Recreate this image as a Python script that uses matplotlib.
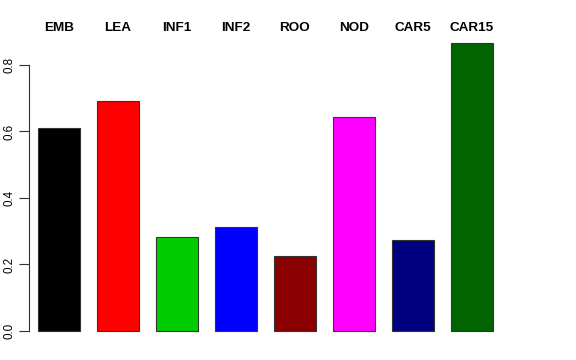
import matplotlib
matplotlib.use("Agg")
import matplotlib.pyplot as plt
import matplotlib.transforms as mtransforms

categories = ["EMB", "LEA", "INF1", "INF2", "ROO", "NOD", "CAR5", "CAR15"]
values = [0.610, 0.692, 0.283, 0.313, 0.226, 0.644, 0.274, 0.866]
colors = ["#000000", "#FF0000", "#00CD00", "#0000FF", "#8B0000", "#FF00FF", "#000080", "#006400"]
yticks = [0.0, 0.2, 0.4, 0.6, 0.8]

plt.rcParams['font.family'] = ['Liberation Sans', 'DejaVu Sans']

W, H = 576, 360
fig = plt.figure(figsize=(W / 100, H / 100), dpi=100)
# axes region in pixels
left_px, right_px, top_px, bottom_px = 29, 511, 31, 345
ax = fig.add_axes([left_px / W, 1 - bottom_px / H, (right_px - left_px) / W, (bottom_px - top_px) / H])

step = 1.4
centers = [0.9 + step * i for i in range(len(categories))]
ax.bar(centers, values, width=1.0, color=colors, edgecolor="#333333", linewidth=0.8)

ax.set_xlim(0.186, 11.632)
ax.set_ylim(-0.0421, 0.902)

for s in ["top", "right", "bottom"]:
    ax.spines[s].set_visible(False)
ax.spines["left"].set_bounds(0, 0.8)
ax.spines["left"].set_color("#333333")
ax.spines["left"].set_linewidth(0.8)
ax.set_xticks([])
ax.set_yticks(yticks)
ax.set_yticklabels([f"{t:.1f}" for t in yticks], rotation=90, va="center", fontsize=8.4)
ax.tick_params(axis="y", length=7, width=0.8, color="#333333", pad=3)

trans = mtransforms.blended_transform_factory(ax.transData, fig.transFigure)
for c, lab in zip(centers, categories):
    ax.text(c, 1 - 28 / H, lab, transform=trans, ha="center", va="center",
            fontsize=9.7, fontweight="bold")

fig.savefig("out.png", dpi=100)
